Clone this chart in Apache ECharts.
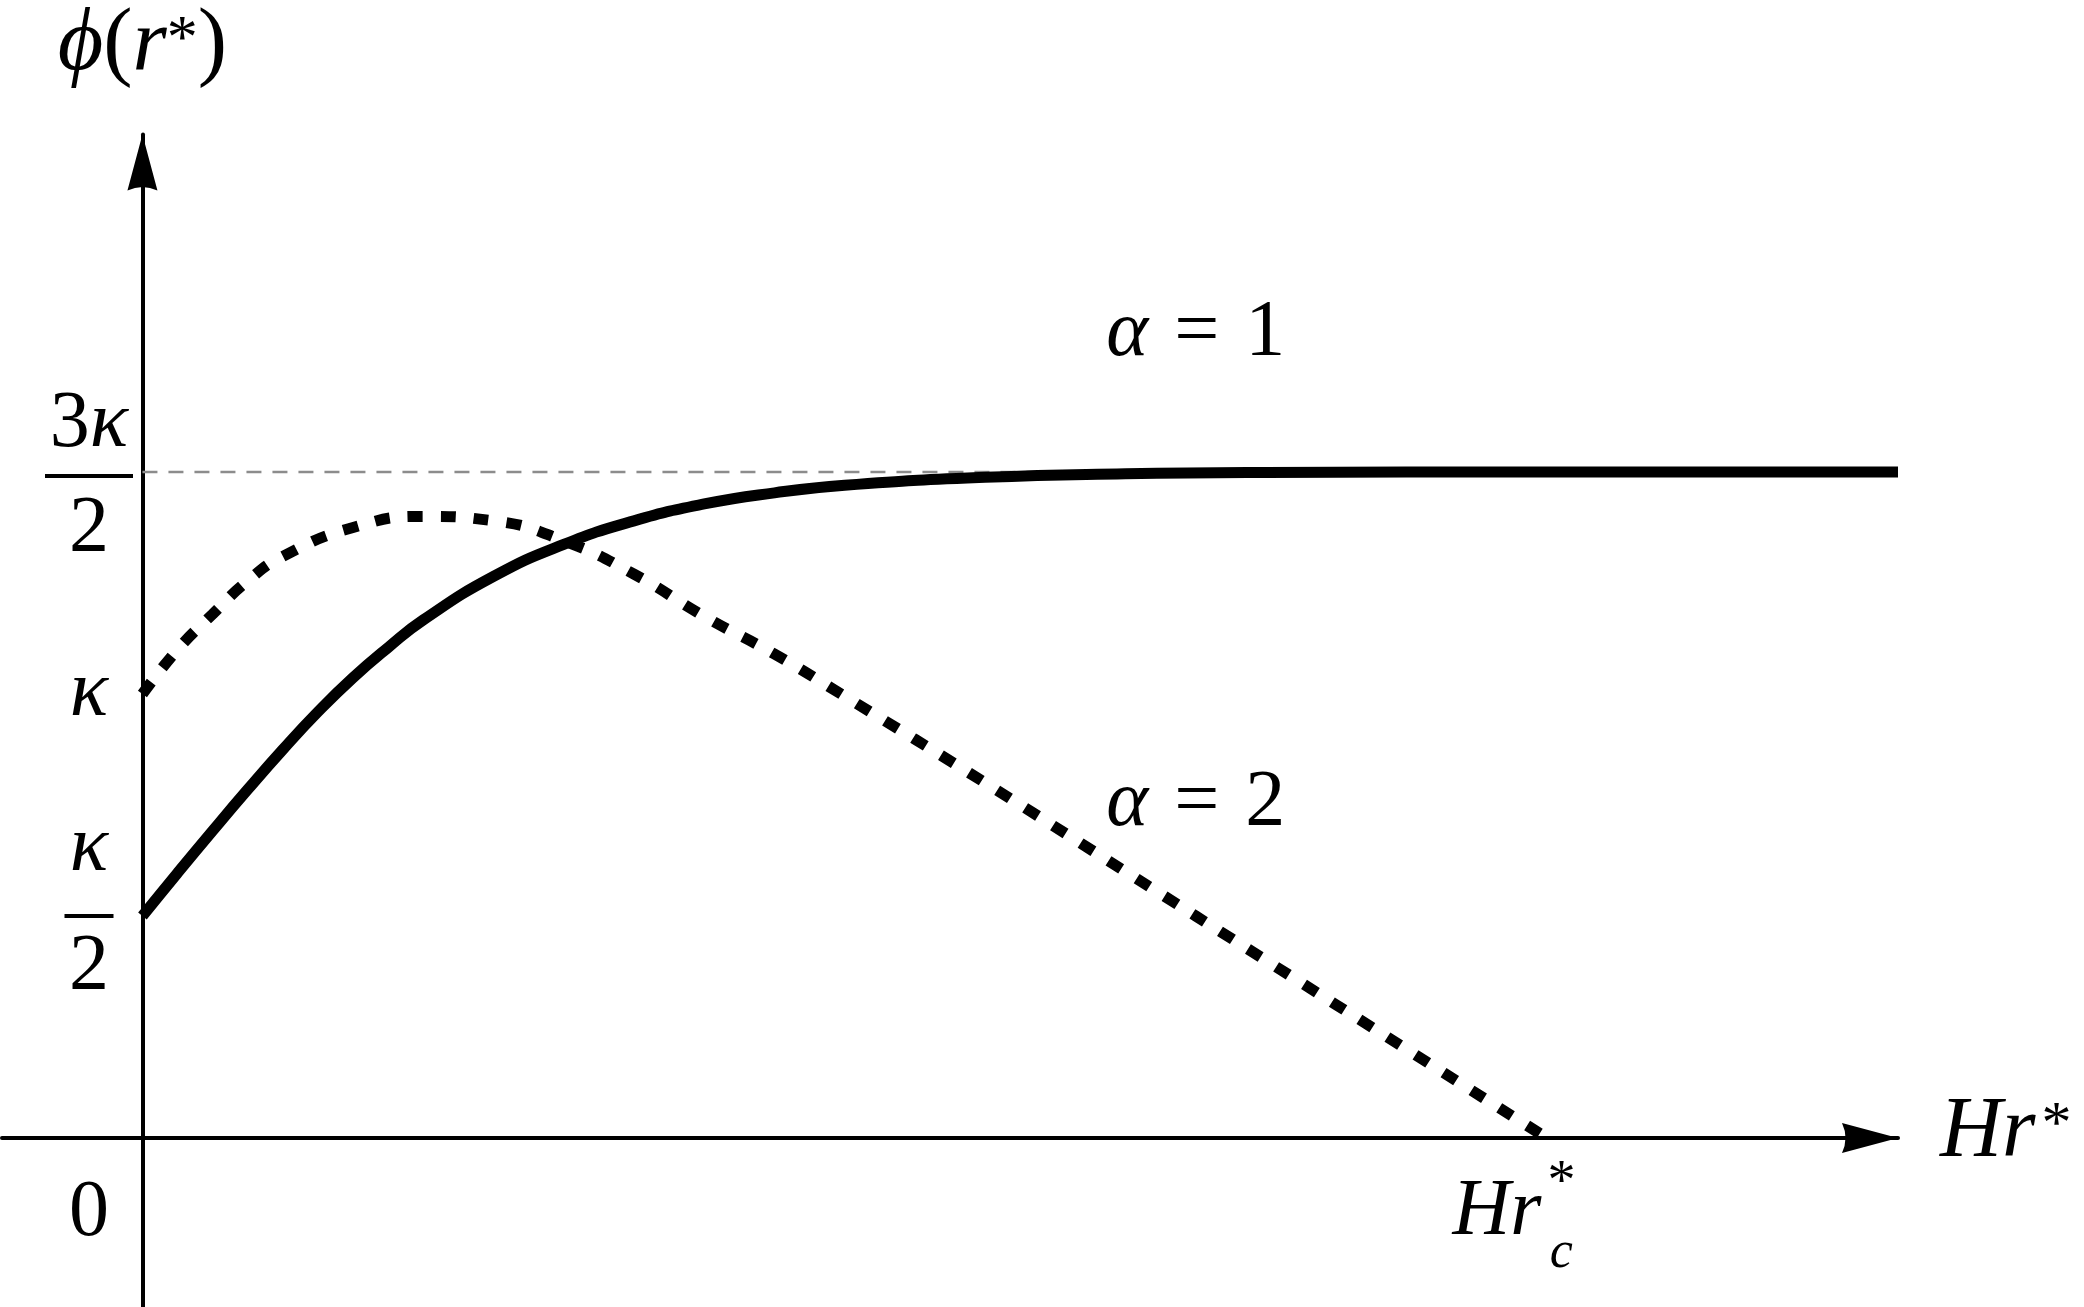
<!DOCTYPE html>
<html>
<head>
<meta charset="utf-8">
<script src="https://cdn.jsdelivr.net/npm/echarts@6/dist/echarts.min.js"></script>
<style>
  html, body { margin: 0; padding: 0; background: #fff; }
  #chart { width: 2084px; height: 1307px; }
</style>
</head>
<body>
<div id="chart"></div>
<script>
// alpha = 1 curve (solid), y in units of kappa
const xAlpha1 = [0, 0.25, 0.5, 0.75, 1, 1.25, 1.5, 1.75, 2, 2.5, 3, 3.5, 4, 4.5, 5, 6, 7, 8, 10, 12.5];
const yAlpha1 = [0.5, 0.597, 0.692, 0.785, 0.875, 0.96, 1.037, 1.105, 1.167, 1.265, 1.337, 1.39, 1.428, 1.453, 1.47, 1.488, 1.496, 1.499, 1.5, 1.5];
// alpha = 2 curve (dashed)
const xAlpha2 = [0, 0.25, 0.5, 0.75, 1, 1.5, 2, 2.5, 3, 3.5, 4, 4.5, 5, 6, 7, 8, 9, 10];
const yAlpha2 = [1.0, 1.1, 1.18, 1.255, 1.31, 1.375, 1.4, 1.39, 1.345, 1.27, 1.175, 1.09, 0.995, 0.8, 0.6, 0.4, 0.2, 0];
// 3kappa/2 asymptote
const refX = [0, 12.5];
const refY = [1.5, 1.5];
// tick labels
const yTicks = [0, 0.5, 1, 1.5];
const yTickLabels = ['0', 'κ/2', 'κ', '3κ/2'];
const xTicks = [10];
const xTickLabels = ['Hr*c'];

const FONT = "'Liberation Serif', 'DejaVu Serif', serif";
const up = (size, lh, extra) => Object.assign({fontFamily: FONT, fontSize: size, lineHeight: lh, color: '#000'}, extra || {});
const it = (size, lh, extra) => up(size, lh, Object.assign({fontStyle: 'italic'}, extra || {}));

const zip = (xs, ys) => xs.map((x, i) => [x, ys[i]]);
const findTick = (ticks, v) => ticks.findIndex((t) => Math.abs(t - v) < 1e-6);

// rich markup for the tick labels
const yMarkup = {
  '0': '{pad0|}\n{zero|0}',
  'κ/2': '{kn|κ}\n{kbar|}\n{kd|2}\n{kpad|}',
  'κ': '{k|κ}',
  '3κ/2': '{tpad|}\n{tn|3}{tni|κ}\n{tbar|}\n{td|2}'
};
const xMarkup = {
  'Hr*c': '{hsp|}{hst|*}{htr|}\n{hH|Hr}{hgap|}\n{hsp2|}{hc|c}{htr3|}'
};

const arrow = 'path://M0,0 L15,56 Q0,49 -15,56 Z';

let myChart = echarts.init(document.getElementById('chart'));
myChart.setOption({
  animation: false,
  backgroundColor: '#fff',
  grid: {
    left: 2,
    right: 186,
    top: 134.56,
    height: 1225.44,
    containLabel: false,
    outerBoundsMode: 'none'
  },
  xAxis: {
    type: 'value',
    min: -1,
    max: 12.5,
    interval: 0.5,
    name: '{nH|Hr}{ns|*}',
    nameLocation: 'end',
    nameGap: 42,
    nameTextStyle: {
      padding: [0, 0, 10, 0],
      rich: {
        nH: it(86, 86),
        ns: up(60, 72, {verticalAlign: 'top', height: 72, padding: [0, 0, 0, 6]})
      }
    },
    axisLine: {
      onZero: true,
      symbol: ['none', arrow],
      symbolSize: [30, 56],
      symbolOffset: [0, -28],
      lineStyle: {color: '#000', width: 4}
    },
    axisTick: {show: false},
    splitLine: {show: false},
    axisLabel: {
      // labels sit on the grid edge, so measure up from the grid bottom
      inside: true,
      margin: 180,
      align: 'center',
      verticalAlign: 'top',
      formatter: (v) => {
        const i = findTick(xTicks, v);
        return i < 0 ? '' : xMarkup[xTickLabels[i]];
      },
      rich: {
        hsp: {width: 103, lineHeight: 8},
        hst: up(56, 8, {width: 26}),
        htr: {width: 74, lineHeight: 8},
        hH: it(80, 50, {width: 103}),
        hgap: {width: 100, lineHeight: 50},
        hsp2: {width: 103, lineHeight: 30},
        hc: it(52, 30, {width: 26}),
        htr3: {width: 74, lineHeight: 30}
      }
    }
  },
  yAxis: {
    type: 'value',
    min: -0.5,
    max: 2.26,
    interval: 0.5,
    name: '{pphi|ϕ}{pp|(}{pr|r}{ps|*}{pp|)}',
    nameLocation: 'end',
    nameGap: 38.5,
    nameTextStyle: {
      rich: {
        pphi: it(88, 100),
        pp: up(88, 100),
        pr: it(88, 100),
        ps: up(62, 90, {verticalAlign: 'top', height: 90})
      }
    },
    axisLine: {
      onZero: true,
      symbol: ['none', arrow],
      symbolSize: [30, 56],
      symbolOffset: [0, -28],
      lineStyle: {color: '#000', width: 4}
    },
    axisTick: {show: false},
    splitLine: {show: false},
    axisLabel: {
      // labels sit on the grid edge, so measure in from the grid left
      inside: true,
      margin: 87,
      align: 'center',
      showMaxLabel: false,
      formatter: (v) => {
        const i = findTick(yTicks, v);
        return i < 0 ? '' : yMarkup[yTickLabels[i]];
      },
      rich: {
        pad0: {lineHeight: 152},
        zero: up(80, 90),
        kn: it(80, 130),
        kbar: {width: 49, height: 4, lineHeight: 4, backgroundColor: '#000'},
        kd: up(80, 100),
        kpad: {lineHeight: 30},
        k: it(80, 90),
        tpad: {lineHeight: 14},
        tn: up(80, 98),
        tni: it(80, 98),
        tbar: {width: 88, height: 4, lineHeight: 4, backgroundColor: '#000'},
        td: up(80, 104)
      }
    }
  },
  series: [
    {
      name: 'asymptote',
      type: 'line',
      data: zip(refX, refY),
      symbol: 'none',
      silent: true,
      z: 1,
      lineStyle: {color: '#8c8c8c', width: 2.5, type: [15, 11]}
    },
    {
      name: 'α = 2',
      type: 'line',
      data: zip(xAlpha2, yAlpha2),
      symbol: 'none',
      smooth: 0.5,
      z: 2,
      lineStyle: {color: '#000', width: 11, type: [15, 18], cap: 'butt'}
    },
    {
      name: 'α = 1',
      type: 'line',
      data: zip(xAlpha1, yAlpha1),
      symbol: 'none',
      smooth: 0.5,
      clip: false,
      z: 3,
      lineStyle: {color: '#000', width: 11, cap: 'butt'}
    },
    {
      // curve names
      name: 'notes',
      type: 'scatter',
      symbolSize: 0.1,
      itemStyle: {color: 'rgba(0,0,0,0)', opacity: 1},
      silent: true,
      data: [
        {value: [7.5, 1.81], name: '1'},
        {value: [7.5, 0.753], name: '2'}
      ],
      label: {
        show: true,
        position: 'inside',
        color: '#000',
        opacity: 1,
        formatter: (p) => '{na|α}{ne|=}{nv|' + p.name + '}',
        rich: {
          na: it(80, 90),
          ne: up(80, 90, {padding: [0, 26, 0, 26]}),
          nv: up(80, 90)
        }
      }
    }
  ]
});
//自适应大小
window.onresize = function () {
  myChart.resize();
};
</script>
</body>
</html>
